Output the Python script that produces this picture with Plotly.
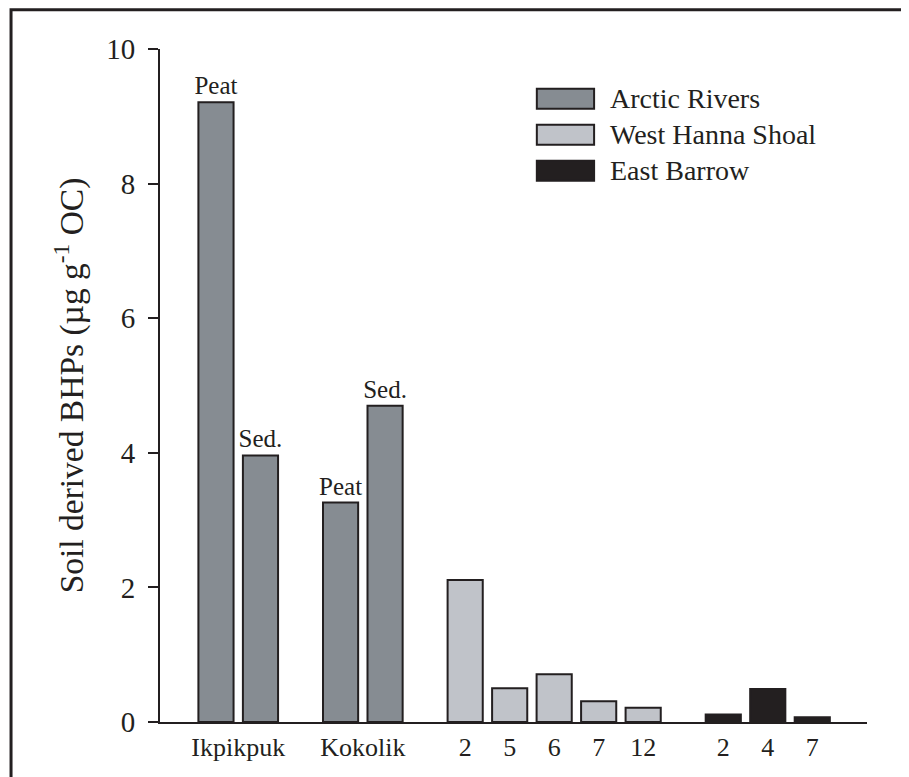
import plotly.graph_objects as go

# ---- data ----
series_names = ["Arctic Rivers", "West Hanna Shoal", "East Barrow"]
arctic_sites = ["Ikpikpuk", "Kokolik"]
arctic_types = ["Peat", "Sed.", "Peat", "Sed."]
arctic_values = [9.21, 3.96, 3.26, 4.70]
whs_stations = ["2", "5", "6", "7", "12"]
whs_values = [2.11, 0.50, 0.71, 0.31, 0.21]
eb_stations = ["2", "4", "7"]
eb_values = [0.11, 0.49, 0.07]
y_ticks = [0, 2, 4, 6, 8, 10]

# ---- styles ----
INK = "#231f20"
colors = {"Arctic Rivers": "#868c92", "West Hanna Shoal": "#c0c3c9", "East Barrow": "#231f20"}
FONT = "Liberation Serif, Times New Roman, serif"

# ---- layout of category slots ----
STEP, GAP, BARW = 1.0, 1.8, 0.79
groups = [2, 2, len(whs_values), len(eb_values)]
pos = []
cur = 0.0
for gi, n in enumerate(groups):
    if gi > 0:
        cur += GAP - STEP
    for k in range(n):
        pos.append(cur)
        cur += STEP
arctic_x = pos[0:4]
whs_x = pos[4:9]
eb_x = pos[9:12]

tickvals = [(arctic_x[0] + arctic_x[1]) / 2, (arctic_x[2] + arctic_x[3]) / 2] + whs_x + eb_x
ticktext = arctic_sites + whs_stations + eb_stations

fig = go.Figure()
fig.add_trace(go.Bar(
    x=arctic_x, y=arctic_values, name=series_names[0], width=BARW,
    marker=dict(color=colors["Arctic Rivers"], line=dict(color=INK, width=2)),
    text=arctic_types, textposition="outside", cliponaxis=False,
    constraintext="none", textangle=0,
    textfont=dict(family=FONT, size=25, color=INK),
))
fig.add_trace(go.Bar(
    x=whs_x, y=whs_values, name=series_names[1], width=BARW,
    marker=dict(color=colors["West Hanna Shoal"], line=dict(color=INK, width=2)),
))
fig.add_trace(go.Bar(
    x=eb_x, y=eb_values, name=series_names[2], width=BARW,
    marker=dict(color=colors["East Barrow"], line=dict(color=INK, width=2)),
))

# manual legend (wide swatches)
leg_x0, leg_x1 = 0.533, 0.614
leg_top = 0.941
row_h = 0.0535
sw_h = 0.0297
shapes = []
annotations = []
for i, name in enumerate(series_names):
    yt = leg_top - i * row_h
    shapes.append(dict(type="rect", xref="paper", yref="paper",
                       x0=leg_x0, x1=leg_x1, y0=yt - sw_h, y1=yt,
                       fillcolor=colors[name], line=dict(color=INK, width=2)))
    annotations.append(dict(xref="paper", yref="paper", x=leg_x1 + 0.019, y=yt - sw_h / 2,
                            xanchor="left", yanchor="middle", showarrow=False, text=name,
                            font=dict(family=FONT, size=28, color=INK)))

# outer frame
shapes.append(dict(type="rect", xref="paper", yref="paper",
                   x0=-0.2107, x1=1.064, y0=-0.2, y1=1.0584,
                   line=dict(color=INK, width=3), fillcolor="rgba(0,0,0,0)", layer="above"))

fig.update_layout(
    width=901, height=769,
    margin=dict(l=152, r=42, t=41, b=55, autoexpand=False),
    paper_bgcolor="white", plot_bgcolor="white",
    showlegend=False,
    barmode="overlay",
    shapes=shapes, annotations=annotations,
    font=dict(family=FONT, color=INK),
)
fig.update_xaxes(
    range=[-1.258, 14.63], showgrid=False, zeroline=False,
    showline=True, linecolor=INK, linewidth=2,
    tickmode="array", tickvals=tickvals, ticktext=ticktext,
    ticks="", tickfont=dict(family=FONT, size=26, color=INK),
    ticklabelstandoff=1,
)
fig.update_yaxes(
    range=[0, 10], showgrid=False, zeroline=False,
    showline=True, linecolor=INK, linewidth=2,
    tickmode="array", tickvals=y_ticks,
    ticks="outside", ticklen=10, tickwidth=2, tickcolor=INK,
    tickfont=dict(family=FONT, size=29, color=INK),
    ticklabelstandoff=7,
    title=dict(text="Soil derived BHPs (µg g<sup>-1</sup> OC)",
               font=dict(family=FONT, size=33.5, color=INK), standoff=12),
)

fig.write_html("out.html")
